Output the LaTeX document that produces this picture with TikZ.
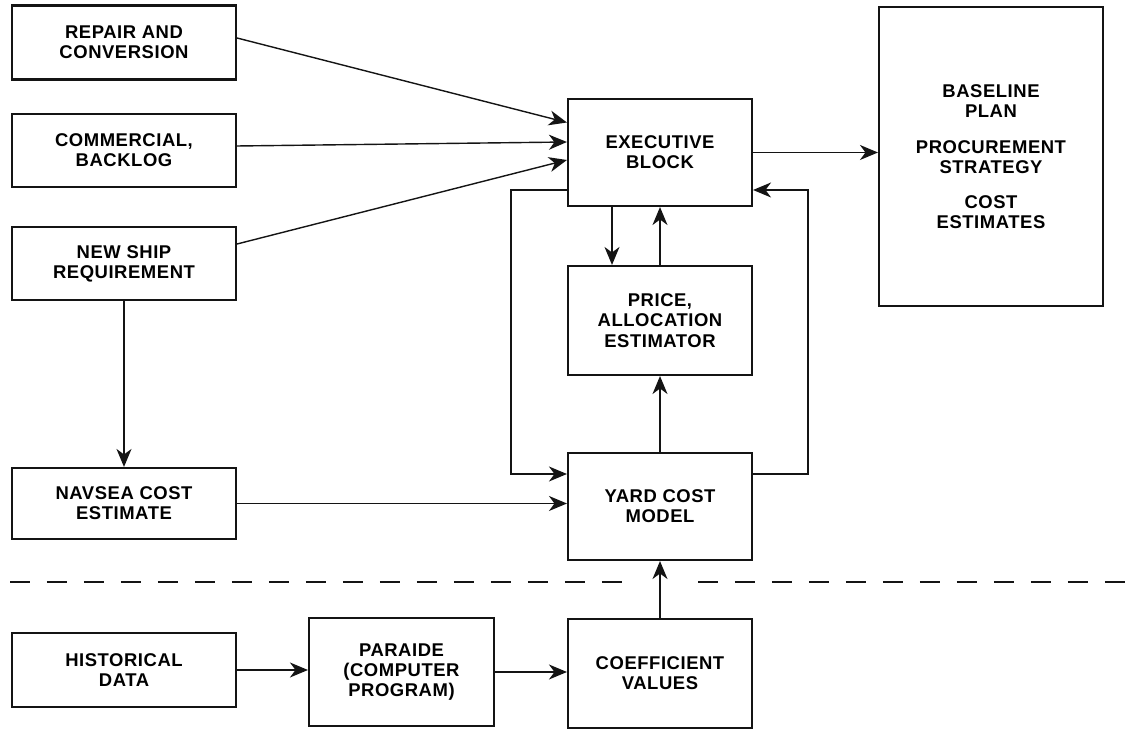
\documentclass[tikz,border=0pt]{standalone}
\usepackage{fontspec}
\setmainfont{Liberation Sans}
\newfontfamily\boxfont[LetterSpace=3]{Liberation Sans}
\usetikzlibrary{arrows.meta}
\definecolor{ink}{HTML}{141414}

\begin{document}
\begin{tikzpicture}[x=0.02cm,y=-0.02cm,
 unit/.style={draw=ink,line width=1.2pt,minimum width=4.48cm,minimum height=1.48cm,
   inner sep=2pt,align=center,font=\boxfont\bfseries\fontsize{10.5}{11.5}\selectfont},
 model/.style={unit,minimum width=3.68cm,minimum height=2.16cm},
 link/.style={-{Stealth[length=3.6mm,width=3mm,inset=1.1mm]},draw=ink,line width=0.8pt},
 boundary/.style={draw=ink,line width=1.1pt,dash pattern=on 0.4cm off 0.34cm}
]
\useasboundingbox (0,0) rectangle (1140,732);
\node[unit] (repair) at (124,42.5) {REPAIR AND\\CONVERSION};
\node[unit,minimum height=1.46cm] (commercial) at (124,150.5) {COMMERCIAL,\\BACKLOG};
\node[unit,minimum height=1.46cm] (newship) at (124,263.5) {NEW SHIP\\REQUIREMENT};
\node[unit,minimum height=1.42cm] (navsea) at (124,503.5) {NAVSEA COST\\ESTIMATE};
\node[unit] (historical) at (124,670) {HISTORICAL\\DATA};
\node[model,minimum width=3.7cm] (paraide) at (401.5,672) {PARAIDE\\(COMPUTER\\PROGRAM)};
\node[model,minimum height=2.14cm] (executive) at (660,152.5) {EXECUTIVE\\BLOCK};
\node[model,minimum height=2.18cm] (price) at (660,320.5) {PRICE,\\ALLOCATION\\ESTIMATOR};
\node[model,minimum height=2.14cm] (yard) at (660,506.5) {YARD COST\\MODEL};
\node[model,minimum height=2.18cm] (coefficient) at (660,673.5) {COEFFICIENT\\VALUES};
\node[unit,minimum height=5.98cm] (results) at (991,156.5)
 {BASELINE\\PLAN\\[9pt]PROCUREMENT\\STRATEGY\\[8pt]COST\\ESTIMATES};
\draw[boundary] (10,582) -- (626,582);
\draw[boundary] (698,582) -- (1140,582);
\draw[link] ([yshift=0.09cm]repair.east) -- ([yshift=0.6cm]executive.west);
\draw[link] ([yshift=0.09cm]commercial.east) -- ([yshift=0.21cm]executive.west);
\draw[link] ([yshift=0.39cm]newship.east) -- ([yshift=-0.15cm]executive.west);
\draw[link] (executive.east) -- (executive.east -| results.west);
\draw[link] ([xshift=-0.96cm]executive.south) -- ([xshift=-0.96cm]price.north);
\draw[link] (price.north) -- (executive.south);
\draw[link] ([yshift=-0.75cm]executive.west) -- ++(-56,0) |- ([yshift=0.65cm]yard.west);
\draw[link] ([yshift=0.65cm]yard.east) -- ++(55,0) |- ([yshift=-0.75cm]executive.east);
\draw[link] (yard.north) -- (price.south);
\draw[link] (coefficient.north) -- (yard.south);
\draw[link] (newship.south) -- (navsea.north);
\draw[link] (navsea.east) -- (navsea.east -| yard.west);
\draw[link] (historical.east) -- (historical.east -| paraide.west);
\draw[link] (paraide.east) -- (paraide.east -| coefficient.west);
\end{tikzpicture}
\end{document}
